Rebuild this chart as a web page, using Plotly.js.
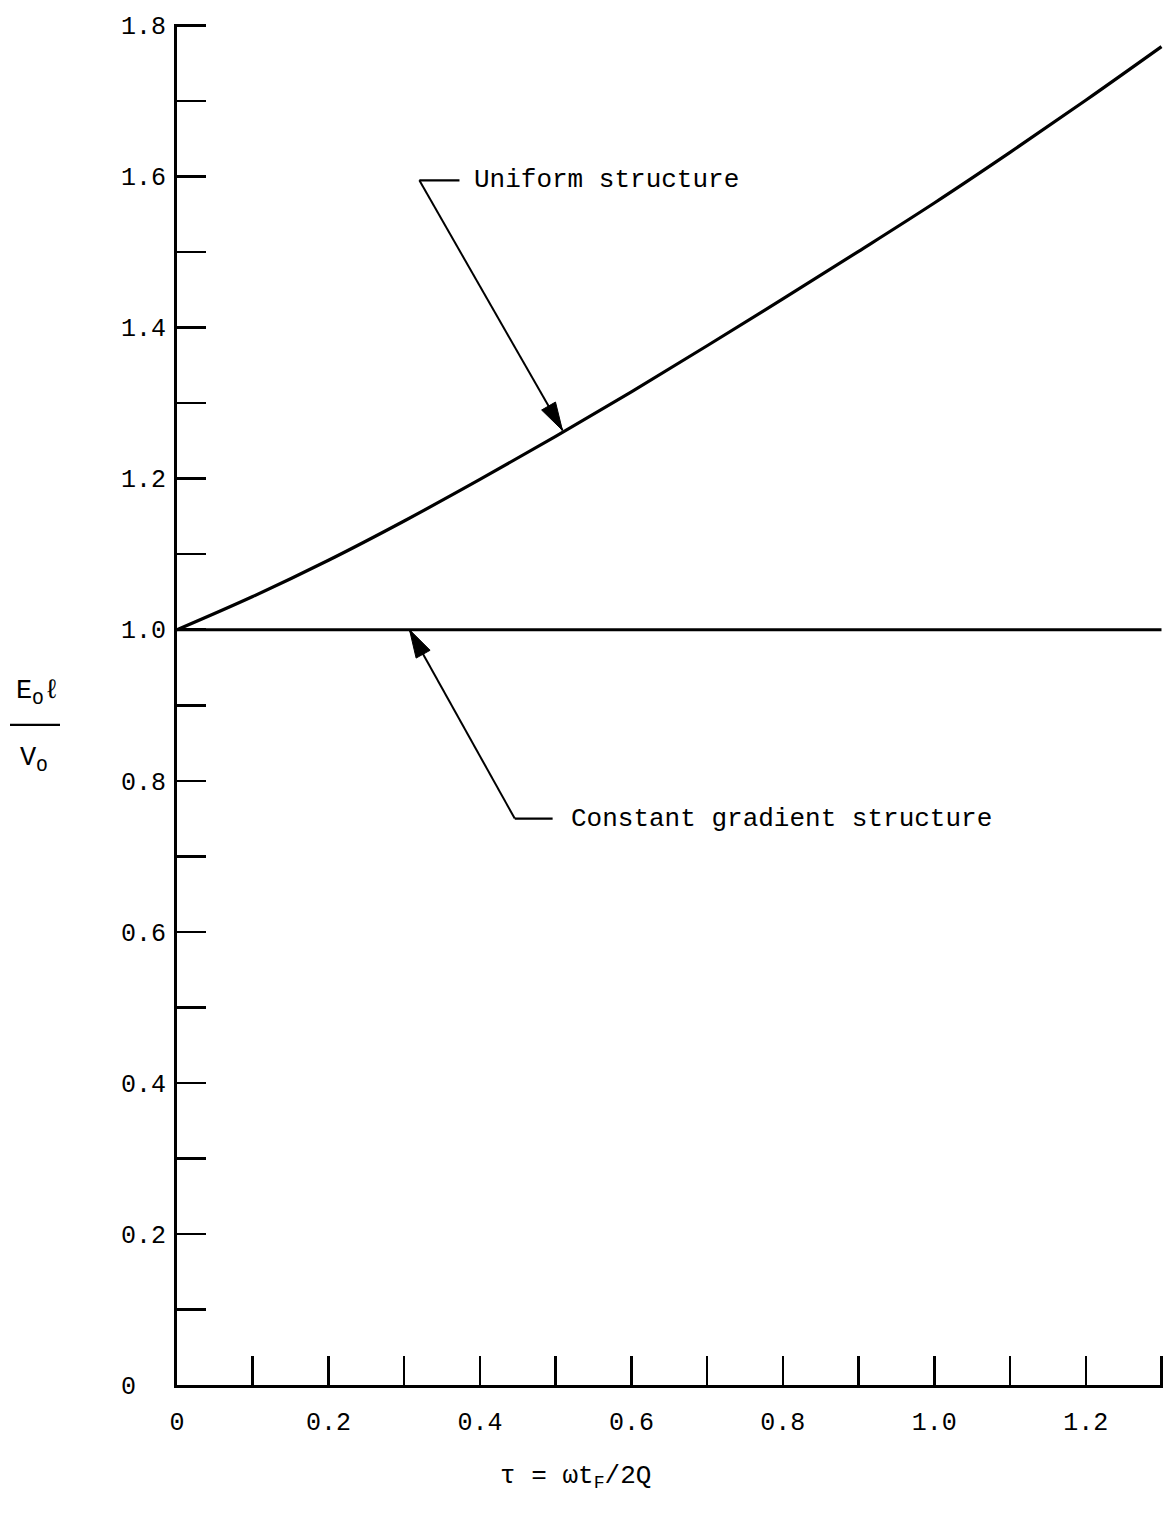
<!DOCTYPE html>
<html>
<head>
<meta charset="utf-8">
<script src="https://cdn.plot.ly/plotly-3.0.1.min.js"></script>
<style>
  html, body { margin: 0; padding: 0; background: #fff; }
  #chart { width: 1169px; height: 1515px; }
</style>
</head>
<body>
<div id="chart"></div>
<script>
// --- datos ---
// tau = omega * t_F / 2Q
const tau = [0, 0.1, 0.2, 0.3, 0.4, 0.5, 0.6, 0.7, 0.8, 0.9, 1.0, 1.1, 1.2, 1.3];
const uniformStructure = [1.000, 1.044, 1.092, 1.144, 1.199, 1.256, 1.315, 1.376, 1.438, 1.501, 1.565, 1.632, 1.701, 1.772];
const constantGradient = [1.0, 1.0, 1.0, 1.0, 1.0, 1.0, 1.0, 1.0, 1.0, 1.0, 1.0, 1.0, 1.0, 1.0];

// marcas con etiqueta (las intermedias van como marcas menores cada 0.1)
const xTickVals = [0, 0.2, 0.4, 0.6, 0.8, 1.0, 1.2];
const xTickText = ['0', '0.2', '0.4', '0.6', '0.8', '1.0', '1.2'];
const yTickVals = [0, 0.2, 0.4, 0.6, 0.8, 1.0, 1.2, 1.4, 1.6, 1.8];
const yTickText = ['0\u00a0\u00a0', '0.2', '0.4', '0.6', '0.8', '1.0', '1.2', '1.4', '1.6', '1.8'];

// etiquetas con flecha: punta, codo y fin del tramo horizontal
const calloutText = ['Uniform structure', 'Constant gradient structure'];
const calloutTipX = [0.509, 0.307];
const calloutTipY = [1.264, 1.0];
const calloutElbowX = [0.320, 0.446];
const calloutElbowY = [1.595, 0.750];
const calloutStubX = [0.373, 0.496];
const calloutLabelX = [0.390, 0.518];

// --- geometría ---
const W = 1169, H = 1515;
const M = { l: 177, r: 6, t: 24, b: 130 };
// un poco más que 1.3 / 1.8 para que se dibujen las marcas finales
const xRange = [0, 1.302], yRange = [0, 1.802];
const plotW = W - M.l - M.r, plotH = H - M.t - M.b;
const FONT = 'Liberation Mono, Courier New, monospace';

const toPx = (x, y) => [x / xRange[1] * plotW, (1 - y / yRange[1]) * plotH];
const toData = (px, py) => [px / plotW * xRange[1], (1 - py / plotH) * yRange[1]];

// punta de flecha rellena, calculada en píxeles y devuelta en coords de datos
function arrowHead(tx, ty, fx, fy, len, half) {
  const [a, b] = toPx(tx, ty);
  const [c, d] = toPx(fx, fy);
  const L = Math.hypot(a - c, b - d);
  const ux = (a - c) / L, uy = (b - d) / L;
  const bx = a - ux * len, by = b - uy * len;
  const p1 = toData(bx - uy * half, by + ux * half);
  const p2 = toData(bx + uy * half, by - ux * half);
  return `M${tx},${ty} L${p1[0]},${p1[1]} L${p2[0]},${p2[1]} Z`;
}

const traces = [
  {
    x: tau, y: uniformStructure,
    type: 'scatter', mode: 'lines',
    line: { color: 'black', width: 3.2, shape: 'spline', smoothing: 1 },
    cliponaxis: false, hoverinfo: 'skip', showlegend: false
  },
  {
    x: tau, y: constantGradient,
    type: 'scatter', mode: 'lines',
    line: { color: 'black', width: 3.2 },
    cliponaxis: false, hoverinfo: 'skip', showlegend: false
  }
];

const shapes = [];
const annotations = [];

calloutText.forEach((txt, i) => {
  // tramo horizontal
  shapes.push({
    type: 'line', xref: 'x', yref: 'y',
    x0: calloutElbowX[i], y0: calloutElbowY[i], x1: calloutStubX[i], y1: calloutElbowY[i],
    line: { color: 'black', width: 2.2 }
  });
  // línea diagonal hasta la curva
  shapes.push({
    type: 'line', xref: 'x', yref: 'y',
    x0: calloutElbowX[i], y0: calloutElbowY[i], x1: calloutTipX[i], y1: calloutTipY[i],
    line: { color: 'black', width: 2 }
  });
  shapes.push({
    type: 'path', xref: 'x', yref: 'y',
    path: arrowHead(calloutTipX[i], calloutTipY[i], calloutElbowX[i], calloutElbowY[i], 28, 8),
    fillcolor: 'black', line: { color: 'black', width: 1 }
  });
  annotations.push({
    xref: 'x', yref: 'y', x: calloutLabelX[i], y: calloutElbowY[i],
    xanchor: 'left', yanchor: 'middle', showarrow: false,
    text: txt, font: { family: FONT, size: 26, color: 'black' }
  });
});

// título del eje Y como fracción E0l / V0
annotations.push({
  xref: 'paper', yref: 'y', x: 0, y: 0.916, xshift: -139,
  xanchor: 'center', yanchor: 'middle', showarrow: false,
  text: 'E<sub>O</sub>\u2113', font: { family: FONT, size: 27, color: 'black' }
});
annotations.push({
  xref: 'paper', yref: 'y', x: 0, y: 0.828, xshift: -143,
  xanchor: 'center', yanchor: 'middle', showarrow: false,
  text: 'V<sub>O</sub>', font: { family: FONT, size: 27, color: 'black' }
});
shapes.push({
  type: 'line', xref: 'paper', yref: 'y',
  x0: (10 - M.l) / plotW, x1: (60 - M.l) / plotW, y0: 0.874, y1: 0.874,
  line: { color: 'black', width: 2.2 }
});

// título del eje X
annotations.push({
  xref: 'x', yref: 'paper', x: 0.526, y: 0, yshift: -92,
  xanchor: 'center', yanchor: 'middle', showarrow: false,
  text: '\u03c4 = \u03c9t<sub>F</sub>/2Q', font: { family: FONT, size: 26, color: 'black' }
});

const axisCommon = {
  showline: true, linecolor: 'black', linewidth: 3,
  ticks: 'inside', ticklen: 29, tickwidth: 2.5, tickcolor: 'black',
  tickmode: 'array', showgrid: false, zeroline: false, fixedrange: true,
  tickfont: { family: FONT, size: 25, color: 'black' },
  minor: { tick0: 0, dtick: 0.1, ticks: 'inside', ticklen: 29, tickwidth: 2.5, tickcolor: 'black', showgrid: false }
};

const layout = {
  width: W, height: H,
  margin: M,
  paper_bgcolor: 'white', plot_bgcolor: 'white',
  showlegend: false,
  xaxis: Object.assign({}, axisCommon, {
    range: xRange, tickvals: xTickVals, ticktext: xTickText, ticklabelstandoff: 12
  }),
  yaxis: Object.assign({}, axisCommon, {
    range: yRange, tickvals: yTickVals, ticktext: yTickText, ticklabelstandoff: 3
  }),
  shapes: shapes,
  annotations: annotations
};

Plotly.newPlot('chart', traces, layout, { staticPlot: true, displayModeBar: false });
</script>
</body>
</html>
